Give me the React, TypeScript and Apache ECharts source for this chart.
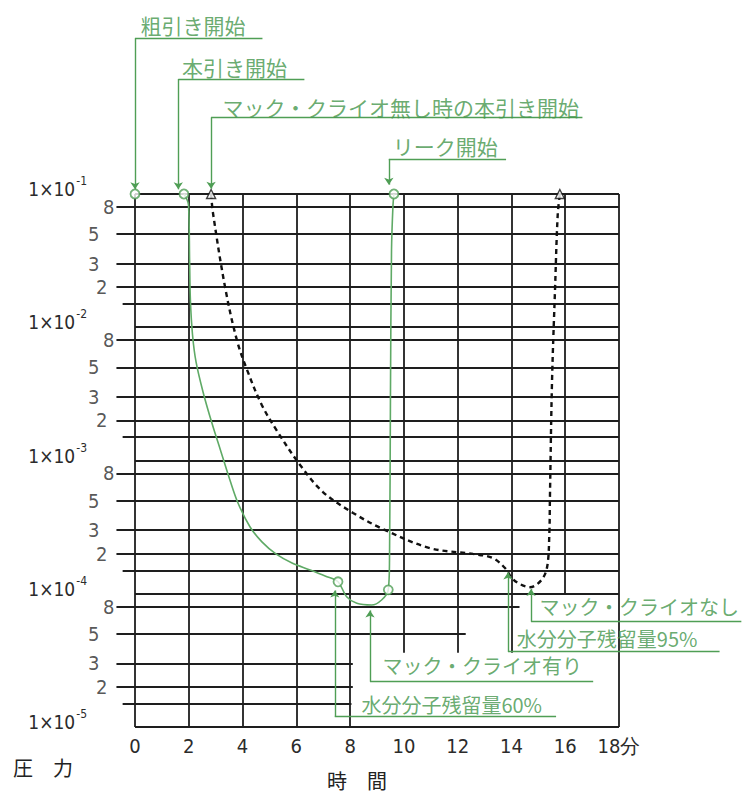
import React, { useEffect, useRef } from "react";
import * as echarts from "echarts";

// ---------- axes ----------
const xTickValues = [0, 2, 4, 6, 8, 10, 12, 14, 16, 18];
const xTickLabels = ["0", "2", "4", "6", "8", "10", "12", "14", "16", "18分"];
const timeMin = 0;
const timeMax = 18;
const pressureMin = 1e-5;
const pressureMax = 1e-1;
const minorExponents = [-5, -4, -3, -2];
const labeledMantissas = [8, 5, 3, 2];
const unlabeledMantissa = 1.5;
const interiorDecades = [1e-4, 1e-3, 1e-2];

// grid line extents (minutes / pressure)
const labeledLineStart = -0.69;
const unlabeledLineStart = -0.46;
const bottomDecadeRightEnds = [14.3, 12.3, 8.1, 8.1, 8.05]; // for 8,5,3,2,1.5 ×10^-5
const verticalGridX = [2, 4, 6, 8, 10, 12, 14, 16];
const verticalGridBottom = [1e-5, 1e-5, 1e-5, 1e-5, 3.6e-5, 3.6e-5, 3.6e-5, 1e-4];

// ---------- curves ----------
// マック・クライオ有り (solid green)
const withCryoTime = [1.82, 1.99, 2.03, 2.06, 2.14, 2.27, 2.53, 2.86, 3.2, 3.53, 3.83, 4.28, 4.72, 5.24, 5.84, 6.51, 7.07, 7.55, 7.87, 8.25, 8.8, 9.17, 9.42, 9.465, 9.5, 9.54, 9.595, 9.63];
const withCryoPressure = [0.1, 0.0827, 0.032, 0.016, 0.00875, 0.00549, 0.00327, 0.00191, 0.00116, 0.000714, 0.00048, 0.000317, 0.000245, 0.000199, 0.00017, 0.000151, 0.000136, 0.000123, 0.000095, 0.0000848, 0.0000823, 0.0000898, 0.000107, 0.000179, 0.00284, 0.038, 0.0827, 0.1];
// マック・クライオなし (dashed black)
const withoutCryoTime = [2.83, 2.9, 3.35, 3.79, 4.2, 4.72, 5.28, 6.14, 6.99, 8.11, 9.22, 10.97, 12.57, 13.31, 13.76, 14.02, 14.32, 14.69, 15.12, 15.33, 15.41, 15.43, 15.51, 15.62, 15.72, 15.8];
const withoutCryoPressure = [0.1, 0.072, 0.02, 0.008, 0.0046, 0.0026, 0.00167, 0.000925, 0.00058, 0.000404, 0.000306, 0.00022, 0.000199, 0.000185, 0.000156, 0.000131, 0.000118, 0.000112, 0.000127, 0.00016, 0.000285, 0.000506, 0.004, 0.019, 0.0695, 0.1];

// event markers
const circleMarkerTime = [0, 1.82, 7.55, 9.42, 9.63];
const circleMarkerPressure = [0.1, 0.1, 0.000123, 0.000107, 0.1];
const triangleMarkerTime = [2.83, 15.8];
const triangleMarkerPressure = [0.1, 0.1];

// ---------- annotations (x in minutes, y as log10 of pressure) ----------
const annotationTexts = [
  "粗引き開始",
  "本引き開始",
  "マック・クライオ無し時の本引き開始",
  "リーク開始",
  "マック・クライオなし",
  "水分分子残留量95%",
  "マック・クライオ有り",
  "水分分子残留量60%",
];
const annotationTextX = [0.2, 1.75, 3.25, 9.59, 15.04, 14.2, 9.2, 8.42];
const annotationTextLogP = [0.27, -0.045, -0.345, -0.637, -4.097, -4.334, -4.54, -4.83];
const leaderStemX = [0, 1.61, 2.83, 9.44, 14.73, 13.87, 8.74, 7.43];
const leaderUnderlineLogP = [0.17, -0.137, -0.424, -0.737, -4.21, -4.435, -4.66, -4.923];
const leaderUnderlineEndX = [4.74, 6.3, 16.64, 13.8, 22.55, 21.74, 17.04, 15.66];
const leaderTipLogP = [-0.965, -0.965, -0.96, -0.93, -3.965, -3.84, -4.125, -3.975];

const axisTitles = ["時　間", "圧　力"];

export default function App() {
  const ref = useRef<HTMLDivElement>(null);

  useEffect(() => {
    if (!ref.current) return;
    const chart = echarts.init(ref.current, undefined, { renderer: "svg" });

    const numFont = "'Liberation Sans Narrow', 'DejaVu Sans Condensed', 'Liberation Sans', Arial, sans-serif";
    const jpFont = "'Noto Sans CJK JP', 'Noto Sans', sans-serif";
    const gridColor = "#1e1e1e";
    const green = "#4f9e55";
    const textGreen = "#43964b";
    const numColor = "#2b2b2b";

    // grid segments
    const gridSegs: { coords: number[][] }[] = [];
    gridSegs.push({ coords: [[timeMin, pressureMax], [timeMax, pressureMax]] });
    gridSegs.push({ coords: [[timeMin, pressureMin], [timeMax, pressureMin]] });
    interiorDecades.forEach((p) => gridSegs.push({ coords: [[timeMin, p], [timeMax, p]] }));
    minorExponents.forEach((e) => {
      const scale = Math.pow(10, e);
      labeledMantissas.forEach((m, i) => {
        const end = e === -5 ? bottomDecadeRightEnds[i] : timeMax;
        gridSegs.push({ coords: [[labeledLineStart, m * scale], [end, m * scale]] });
      });
      const end15 = e === -5 ? bottomDecadeRightEnds[4] : timeMax;
      gridSegs.push({ coords: [[unlabeledLineStart, unlabeledMantissa * scale], [end15, unlabeledMantissa * scale]] });
    });
    gridSegs.push({ coords: [[timeMin, pressureMin], [timeMin, pressureMax]] });
    gridSegs.push({ coords: [[timeMax, pressureMin], [timeMax, pressureMax]] });
    verticalGridX.forEach((x, i) => gridSegs.push({ coords: [[x, verticalGridBottom[i]], [x, pressureMax]] }));

    // minor y labels
    const minorLabelGap: Record<number, number> = { 8: 2, 5: 17, 3: 17, 2: 9 };
    const minorLabelData: any[] = [];
    minorExponents.forEach((e) => {
      labeledMantissas.forEach((m) => {
        minorLabelData.push({
          value: [labeledLineStart, m * Math.pow(10, e)],
          name: String(m),
          label: { distance: minorLabelGap[m] },
        });
      });
    });

    const underlineSegs = annotationTexts.map((_, i) => ({
      coords: [
        [leaderStemX[i], Math.pow(10, leaderUnderlineLogP[i])],
        [leaderUnderlineEndX[i], Math.pow(10, leaderUnderlineLogP[i])],
      ],
    }));
    const stemSegs = annotationTexts.map((_, i) => ({
      coords: [
        [leaderStemX[i], Math.pow(10, leaderUnderlineLogP[i])],
        [leaderStemX[i], Math.pow(10, leaderTipLogP[i])],
      ],
    }));
    const annotationData = annotationTexts.map((t, i) => ({
      value: [annotationTextX[i], Math.pow(10, annotationTextLogP[i])],
      name: t,
      label: { fontSize: i < 4 ? 21 : 20 },
    }));

    const option: any = {
      animation: false,
      backgroundColor: "#ffffff",
      grid: { left: 135, right: 123, top: 194, bottom: 66, containLabel: false },
      xAxis: {
        type: "value",
        min: timeMin,
        max: timeMax,
        interval: 2,
        axisLine: { show: false },
        axisTick: { show: false },
        splitLine: { show: false },
        axisLabel: {
          margin: 9,
          fontSize: 20,
          fontFamily: numFont,
          color: numColor,
          showMaxLabel: true,
          formatter: (v: number) => {
            const idx = xTickValues.indexOf(Math.round(v));
            return idx >= 0 ? xTickLabels[idx] : "";
          },
        },
      },
      yAxis: {
        type: "log",
        logBase: 10,
        min: pressureMin,
        max: pressureMax,
        axisLine: { show: false },
        axisTick: { show: false },
        splitLine: { show: false },
        minorSplitLine: { show: false },
        axisLabel: {
          margin: 48,
          padding: [0, 0, 10, 0],
          formatter: (v: number) => `{a|1×10}{s|${Math.round(Math.log10(v))}}`,
          rich: {
            a: { fontSize: 19, fontFamily: numFont, color: numColor, lineHeight: 28 },
            s: { fontSize: 12, fontFamily: numFont, color: numColor, verticalAlign: "top", lineHeight: 12, padding: [0, 0, 0, 1] },
          },
        },
      },
      series: [
        {
          name: "grid",
          type: "lines",
          coordinateSystem: "cartesian2d",
          clip: false,
          silent: true,
          z: 1,
          lineStyle: { color: gridColor, width: 1.8, opacity: 1 },
          data: gridSegs,
        },
        {
          name: "yMinorLabels",
          type: "scatter",
          clip: false,
          silent: true,
          symbolSize: 0,
          z: 2,
          label: {
            show: true,
            position: "left",
            formatter: "{b}",
            fontSize: 20,
            fontFamily: numFont,
            color: numColor,
          },
          data: minorLabelData,
        },
        {
          name: "マック・クライオなし",
          type: "line",
          showSymbol: false,
          smooth: 0.35,
          clip: false,
          z: 3,
          lineStyle: { color: "#111", width: 2.4, type: [5, 4] },
          data: withoutCryoTime.map((t, i) => [t, withoutCryoPressure[i]]),
        },
        {
          name: "マック・クライオ有り",
          type: "line",
          showSymbol: false,
          smooth: 0.35,
          clip: false,
          z: 3,
          lineStyle: { color: "#5faa66", width: 1.6 },
          data: withCryoTime.map((t, i) => [t, withCryoPressure[i]]),
        },
        {
          name: "circles",
          type: "scatter",
          clip: false,
          z: 4,
          symbol: "circle",
          symbolSize: 9,
          itemStyle: { color: "#ffffff", borderColor: green, borderWidth: 1.8 },
          data: circleMarkerTime.map((t, i) => [t, circleMarkerPressure[i]]),
        },
        {
          name: "triangles",
          type: "scatter",
          clip: false,
          z: 4,
          symbol: "triangle",
          symbolSize: 9,
          itemStyle: { color: "#ffffff", borderColor: "#111", borderWidth: 1.4 },
          data: triangleMarkerTime.map((t, i) => [t, triangleMarkerPressure[i]]),
        },
        {
          name: "leaderUnderlines",
          type: "lines",
          coordinateSystem: "cartesian2d",
          clip: false,
          silent: true,
          z: 5,
          lineStyle: { color: green, width: 1.4, opacity: 1 },
          data: underlineSegs,
        },
        {
          name: "leaderStems",
          type: "lines",
          coordinateSystem: "cartesian2d",
          clip: false,
          silent: true,
          z: 5,
          symbol: ["none", "arrow"],
          symbolSize: 7,
          lineStyle: { color: green, width: 1.4, opacity: 1 },
          data: stemSegs,
        },
        {
          name: "annotations",
          type: "scatter",
          clip: false,
          silent: true,
          symbolSize: 0,
          z: 6,
          label: {
            show: true,
            position: "right",
            distance: 0,
            formatter: "{b}",
            fontFamily: jpFont,
            color: textGreen,
          },
          data: annotationData,
        },
      ],
      graphic: [
        {
          type: "text",
          x: 357,
          y: 780,
          style: { text: axisTitles[0], fontSize: 20, lineHeight: 22, fontFamily: jpFont, fill: "#222", align: "center", verticalAlign: "middle" },
        },
        {
          type: "text",
          x: 43,
          y: 767,
          style: { text: axisTitles[1], fontSize: 20, lineHeight: 22, fontFamily: jpFont, fill: "#222", align: "center", verticalAlign: "middle" },
        },
      ],
    };

    chart.setOption(option);
    return () => chart.dispose();
  }, []);

  return (
    <div
      ref={ref}
      style={{ position: "absolute", left: 0, top: 0, width: 742, height: 793, background: "#fff" }}
    />
  );
}
